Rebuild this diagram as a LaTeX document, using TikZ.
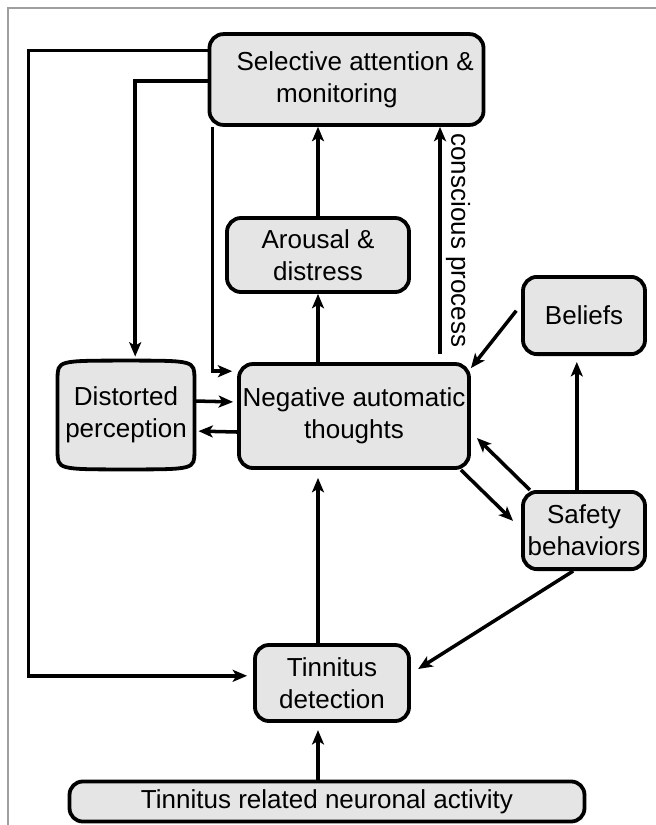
\documentclass[tikz,border=0pt]{standalone}
\usepackage{fontspec}
\setmainfont{Liberation Sans}
\usetikzlibrary{arrows.meta, backgrounds}

\begin{document}
\begin{tikzpicture}[x=0.025cm, y=-0.025cm,
    box/.style={draw, line width=2.7pt, fill=gray!20, rounded corners=0.35cm, align=center, inner sep=2pt, font=\fontsize{18.5}{23}\selectfont},
    arr/.style={line width=2.5pt, -{Stealth[length=3.6mm, width=3mm, inset=0.9mm]}}]
    \useasboundingbox (0,0) rectangle (656,825);

    % Boxes
    \node[box, minimum width=6.85cm, minimum height=2.27cm] (sel) at (346.5,79.5) {\hspace*{0.43cm}Selective attention \&\\monitoring\hspace*{0.48cm}};
    \node[box, minimum width=4.55cm, minimum height=1.85cm] (arousal) at (318,255) {Arousal \&\\distress};
    \node[box, minimum width=3.05cm, minimum height=1.93cm] (beliefs) at (584,315.5) {Beliefs};
    \node[box, draw=none, fill=none, outer sep=0pt, minimum width=3.42cm, minimum height=2.72cm] (dist) at (126,415) {Distorted\\perception};
    \node[box, minimum width=5.75cm, minimum height=2.6cm] (neg) at (354,416) {Negative automatic\\thoughts};
    \node[box, minimum width=3.05cm, minimum height=1.93cm] (safety) at (584,530.5) {Safety\\behaviors};
    \node[box, minimum width=3.85cm, minimum height=1.9cm] (tdet) at (332,683) {Tinnitus\\detection};
    \node[box, minimum width=12.87cm, minimum height=1cm, rounded corners=0.33cm] (neural) at (327,801.5) {Tinnitus related neuronal activity};

    % Frame and distorted perception outline
    \begin{scope}[on background layer]
        \draw[gray!75, line width=1pt] (656,8) -- (8,8) -- (8,825);
        \draw[line width=2.7pt, fill=gray!20] ([yshift=-0.45cm]dist.north west) .. controls (dist.north west) .. (dist.north) .. controls (dist.north east) .. ([yshift=-0.45cm]dist.north east) -- ([yshift=0.45cm]dist.south east) .. controls (dist.south east) .. (dist.south) .. controls (dist.south west) .. ([yshift=0.45cm]dist.south west) -- cycle;
    \end{scope}

    % Feedback from attention
    \draw[arr, shorten >=0.15cm] ([yshift=0.72cm]sel.west) -- ++(-179,0) |- ([yshift=0.18cm]tdet.west);
    \draw[arr, shorten >=0.1cm] ([yshift=-0.04cm]sel.west) -| ([xshift=0.23cm]dist.north);
    \draw[arr, shorten >=0.12cm] ([xshift=0.12cm]sel.south west) |- ([yshift=1.12cm]neg.west);

    % Upward chain
    \draw[arr] (arousal.north) -- (arousal.north |- sel.south);
    \draw[arr] (neg.north -| arousal.south) -- (arousal.south);
    \draw[arr, shorten >=0.2cm] (tdet.north -| arousal.south) -- (neg.south -| arousal.south);
    \draw[arr, shorten >=0.18cm] (neural.north -| arousal.south) -- (tdet.south -| arousal.south);

    % Conscious process
    \coordinate (cp) at ([xshift=2.15cm]neg.north);
    \draw[arr] ([yshift=0.2cm]cp) -- (cp |- sel.south) node (cplabel) [midway, rotate=-90, anchor=south, inner sep=3pt, font=\fontsize{18.5}{23}\selectfont] {conscious process};

    % Distorted perception
    \draw[arr, shorten >=0.1cm] ([yshift=0.35cm]dist.east) -- ([yshift=0.35cm]neg.west);
    \draw[arr, shorten >=0.1cm] ([yshift=-0.4cm]neg.west) -- ([yshift=-0.4cm]dist.east);

    % Beliefs and safety behaviors
    \draw[arr] ([xshift=-0.12cm, yshift=0.12cm]beliefs.west) -- ([yshift=-0.15cm]neg.north east);
    \draw[arr, shorten >=0.15cm] ([xshift=-0.18cm]safety.north) -- ([xshift=-0.18cm]beliefs.south);
    \draw[arr] ([xshift=0.22cm]safety.north west) -- ([xshift=0.15cm, yshift=-0.55cm]neg.east);
    \draw[arr] ([xshift=-0.25cm]neg.south east) -- ([xshift=-0.2cm, yshift=0.24cm]safety.west);
    \draw[arr] ([xshift=-0.27cm]safety.south) -- ([xshift=0.18cm, yshift=0.35cm]tdet.east);

\end{tikzpicture}
\end{document}
